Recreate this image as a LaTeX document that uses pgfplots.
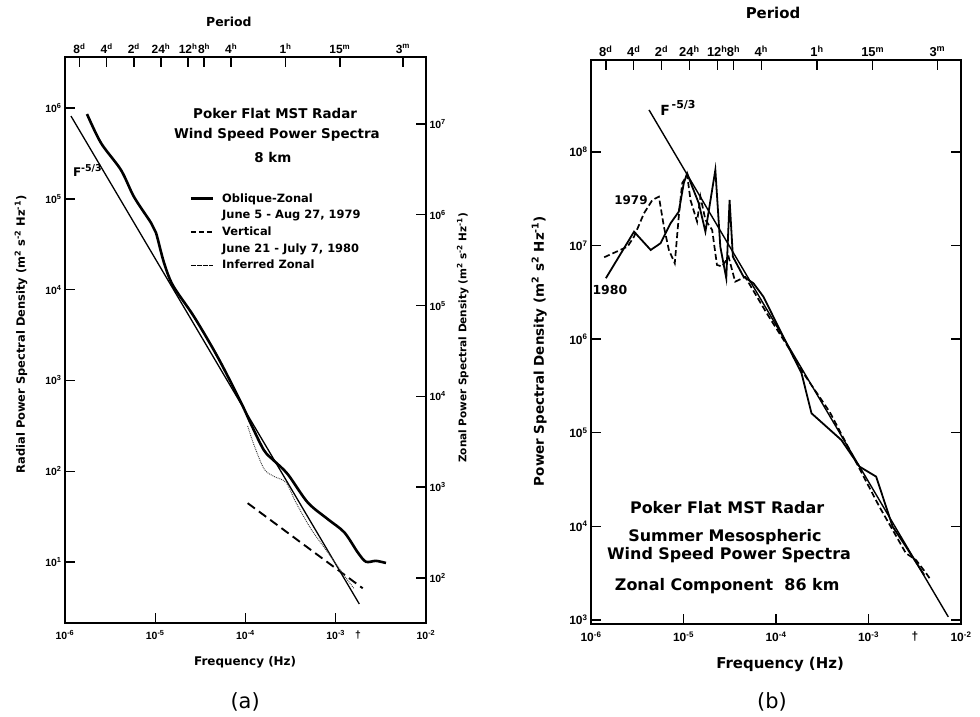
\documentclass[border=0pt]{standalone}
\usepackage{fontspec}
\setmainfont{DejaVu Sans}
\newfontfamily\tickf{Liberation Sans}
\usepackage{pgfplots}
\pgfplotsset{compat=1.18}
\newcommand\fsz[1]{\fontsize{#1}{#1}\selectfont}

\pgfplotsset{legend image code/.code={\draw[#1] (0bp,0bp) -- (22bp,0bp);}}
\pgfplotsset{
  scanframe/.style={
    scale only axis, clip=false,
    xmin=1e-6, xmax=1e-2,
    xminorticks=false, yminorticks=false,
    axis line style={line width=1.8bp},
    major tick style={line width=1.4bp, black},
    major tick length=10bp, tick align=inside,
    tick label style={font=\tickf\bfseries\fsz{10.5}},
  },
  leftbox/.style={at={(65bp,94bp)}, anchor=south west, width=361bp, height=566bp},
  rightbox/.style={at={(591bp,93bp)}, anchor=south west, width=370bp, height=564bp},
  periodaxis/.style={
    ytick=\empty, xtick pos=right, xticklabel pos=right,
    xtick={1.447e-6,2.894e-6,5.787e-6,1.157e-5,2.315e-5,3.472e-5,6.944e-5,2.778e-4,1.111e-3,5.556e-3},
    xticklabels={8\textsuperscript{d},4\textsuperscript{d},2\textsuperscript{d},24\textsuperscript{h},12\textsuperscript{h},8\textsuperscript{h},4\textsuperscript{h},1\textsuperscript{h},15\textsuperscript{m},3\textsuperscript{m}},
  },
  decx/.style={
    xtick={1e-6,1e-5,1e-4,1e-3,1e-2},
    xticklabels={10\textsuperscript{-6},10\textsuperscript{-5},10\textsuperscript{-4},10\textsuperscript{-3},10\textsuperscript{-2}},
    xtick pos=left, xticklabel style={yshift=-4bp},
  },
}

\begin{document}
\begin{tikzpicture}
\path[use as bounding box] (0,0) rectangle (980bp,717bp);

% ---------------- panel (a) ----------------
\begin{loglogaxis}[scanframe, leftbox, decx,
  ymin=2.13, ymax=3.65e6,
  ytick={10,100,1000,1e4,1e5,1e6},
  yticklabels={10\textsuperscript{1},10\textsuperscript{2},10\textsuperscript{3},10\textsuperscript{4},10\textsuperscript{5},10\textsuperscript{6}},
  ytick pos=left,
  extra x ticks={1.77e-3}, extra x tick labels={†},
  extra x tick style={major tick length=0pt},
  legend style={at={(axis description cs:0.345,0.761)}, anchor=north west,
    draw=none, fill=none, font=\bfseries\fsz{11.5}, row sep=4.5bp, inner sep=0pt,
    nodes={inner sep=1bp},
    /tikz/every odd column/.append style={column sep=7bp}},
  legend cell align=left,
]
% Oblique-Zonal 1979
\addplot[black, line width=2.6bp, smooth, forget plot] coordinates {
 (1.754e-6,8.59e5) (2.506e-6,4.12e5) (4.169e-6,2.08e5) (5.82e-6,1.05e5)
 (8.97e-6,5.45e4) (1.019e-5,4.23e4) (1.25e-5,1.98e4) (1.574e-5,1.107e4)
 (2.685e-5,5.05e3) (4.95e-5,1.79e3) (8.91e-5,573) (1.151e-4,330)
 (1.603e-4,170) (2.08e-4,130) (2.94e-4,92.7) (4.89e-4,45.3)
 (8.15e-4,29.7) (1.245e-3,21.2) (1.75e-3,12.8) (2.16e-3,10.07)
 (2.79e-3,10.3) (3.6e-3,9.75)};
% F^-5/3
\addplot[black, line width=1.3bp, forget plot] coordinates {(1.165e-6,8.16e5) (1.824e-3,3.45)};
% Vertical 1980
\addplot[black, line width=1.9bp, dash pattern=on 9bp off 5bp, forget plot] coordinates {(1.057e-4,44.5) (1.99e-3,5.14)};
% Inferred zonal
\addplot[black!80, line width=0.9bp, densely dotted, smooth, forget plot] coordinates {
 (1.057e-4,315) (1.253e-4,190) (1.616e-4,105) (2.08e-4,87.5) (2.81e-4,75.2)
 (3.62e-4,45.3) (5.32e-4,23.1) (8.15e-4,12.8) (1.245e-3,7.08) (1.607e-3,5.05)};

\addlegendimage{black, line width=2.4bp}
\addlegendentry{Oblique-Zonal}
\addlegendimage{empty legend}
\addlegendentry{June 5 - Aug 27, 1979}
\addlegendimage{black, line width=1.6bp, dash pattern=on 5bp off 3bp}
\addlegendentry{Vertical}
\addlegendimage{empty legend}
\addlegendentry{June 21 - July 7, 1980}
\addlegendimage{black, line width=1.1bp, dash pattern=on 5bp off 1bp}
\addlegendentry{Inferred Zonal}

\node[font=\bfseries\fsz{13.5}] at (axis description cs:0.582,0.901) {Poker Flat MST Radar};
\node[font=\bfseries\fsz{13.5}] at (axis description cs:0.587,0.862) {Wind Speed Power Spectra};
\node[font=\bfseries\fsz{13.5}] at (axis description cs:0.576,0.823) {8 km};
\node[font=\bfseries\fsz{12}] at (axis description cs:0.062,0.799) {F\raisebox{0.8ex}{\fsz{9.5}-5/3}};
\node[font=\bfseries\fsz{12}] at (axis description cs:0.499,-0.069) {Frequency (Hz)};
\node[font=\bfseries\fsz{11.5}, rotate=90] at (axis description cs:-0.122,0.51) {Radial Power Spectral Density (m\textsuperscript{2} s\textsuperscript{-2} Hz\textsuperscript{-1})};
\node[font=\bfseries\fsz{10.5}, rotate=90] at (axis description cs:1.102,0.504) {Zonal Power Spectral Density (m\textsuperscript{2} s\textsuperscript{-2} Hz\textsuperscript{-1})};
\node[font=\fsz{21}] at (axis description cs:0.499,-0.14) {(a)};
\end{loglogaxis}

\begin{loglogaxis}[scanframe, leftbox, periodaxis, ymin=2.13, ymax=3.65e6,
  tick label style={font=\tickf\bfseries\fsz{12}}]
\node[font=\bfseries\fsz{12.5}] at (axis description cs:0.454,1.062) {Period};
\end{loglogaxis}

\begin{loglogaxis}[scanframe, leftbox, ymin=31.9, ymax=5.47e7, xtick=\empty,
  ytick={1e2,1e3,1e4,1e5,1e6,1e7},
  yticklabels={10\textsuperscript{2},10\textsuperscript{3},10\textsuperscript{4},10\textsuperscript{5},10\textsuperscript{6},10\textsuperscript{7}},
  ytick pos=right, yticklabel pos=right]
\end{loglogaxis}

% ---------------- panel (b) ----------------
\begin{loglogaxis}[scanframe, rightbox, decx,
  ymin=906, ymax=9.6e8,
  ytick={1e3,1e4,1e5,1e6,1e7,1e8},
  yticklabels={10\textsuperscript{3},10\textsuperscript{4},10\textsuperscript{5},10\textsuperscript{6},10\textsuperscript{7},10\textsuperscript{8}},
  ytick pos=both, yticklabel pos=left,
  tick label style={font=\tickf\bfseries\fsz{12}},
  extra x ticks={3.18e-3}, extra x tick labels={†},
  extra x tick style={major tick length=0pt},
]
% F^-5/3
\addplot[black, line width=1.4bp] coordinates {(4.24e-6,2.81e8) (7.29e-3,1.08e3)};
% 1980
\addplot[black, line width=1.8bp] coordinates {
 (1.449e-6,4.48e6) (2.92e-6,1.406e7) (4.42e-6,8.97e6) (5.66e-6,1.059e7)
 (7.25e-6,1.73e7) (8.89e-6,2.30e7) (1.007e-5,4.64e7) (1.096e-5,5.91e7)
 (1.242e-5,4.26e7) (1.462e-5,2.83e7) (1.726e-5,1.406e7) (2.21e-5,6.43e7)
 (2.50e-5,9.73e6) (2.90e-5,4.48e6) (3.15e-5,3.07e7) (3.42e-5,7.60e6)
 (4.45e-5,4.66e6) (5.70e-5,3.96e6) (7.30e-5,2.85e6) (1.197e-4,1.064e6)
 (1.535e-4,6.50e5) (1.888e-4,4.32e5) (2.42e-4,1.614e5) (5.08e-4,8.38e4)
 (7.99e-4,4.35e4) (1.21e-3,3.40e4) (1.824e-3,9.93e3) (2.54e-3,6.07e3)
 (4.0e-3,3.03e3)};
% 1979
\addplot[black, line width=1.7bp, dash pattern=on 6bp off 3bp] coordinates {
 (1.39e-6,7.50e6) (2.48e-6,9.73e6) (2.92e-6,1.245e7) (3.74e-6,2.21e7)
 (4.61e-6,3.07e7) (5.42e-6,3.33e7) (6.14e-6,1.59e7) (6.95e-6,8.97e6)
 (8.05e-6,6.47e6) (8.89e-6,2.04e7) (9.68e-6,4.64e7) (1.096e-5,5.68e7)
 (1.189e-5,3.07e7) (1.403e-5,1.80e7) (1.524e-5,3.33e7) (1.726e-5,1.88e7)
 (2.04e-5,1.47e7) (2.30e-5,6.21e6) (2.61e-5,5.96e6) (3.07e-5,7.60e6)
 (3.62e-5,4.11e6) (4.65e-5,4.62e6) (7.94e-5,1.89e6) (1.416e-4,7.67e5)
 (1.81e-4,4.92e5) (3.81e-4,1.667e5) (6.52e-4,6.08e4) (1.312e-3,1.62e4)
 (2.54e-3,5.16e3) (3.26e-3,4.38e3) (4.18e-3,3.18e3) (4.72e-3,2.67e3)};

\node[font=\bfseries\fsz{14}, anchor=west] at (axis description cs:0.178,0.915) {F\raisebox{0.8ex}{\fsz{11}\,-5/3}};
\node[font=\bfseries\fsz{12}] at (axis description cs:0.108,0.752) {1979};
\node[font=\bfseries\fsz{12.5}] at (axis description cs:0.051,0.592) {1980};
\node[font=\bfseries\fsz{16}] at (axis description cs:0.368,0.206) {Poker Flat MST Radar};
\node[font=\bfseries\fsz{16}] at (axis description cs:0.362,0.154) {Summer Mesospheric};
\node[font=\bfseries\fsz{16}] at (axis description cs:0.373,0.122) {Wind Speed Power Spectra};
\node[font=\bfseries\fsz{16}] at (axis description cs:0.368,0.067) {Zonal Component\ \ 86 km};
\node[font=\bfseries\fsz{15}] at (axis description cs:0.511,-0.071) {Frequency (Hz)};
\node[font=\bfseries\fsz{13.5}, rotate=90] at (axis description cs:-0.14,0.484) {Power Spectral Density (m\textsuperscript{2} s\textsuperscript{2} Hz\textsuperscript{-1})};
\node[font=\fsz{21}] at (axis description cs:0.489,-0.138) {(b)};
\end{loglogaxis}

\begin{loglogaxis}[scanframe, rightbox, periodaxis, ymin=906, ymax=9.6e8,
  tick label style={font=\tickf\bfseries\fsz{13}}]
\node[font=\bfseries\fsz{15}] at (axis description cs:0.492,1.083) {Period};
\end{loglogaxis}
\end{tikzpicture}
\end{document}
